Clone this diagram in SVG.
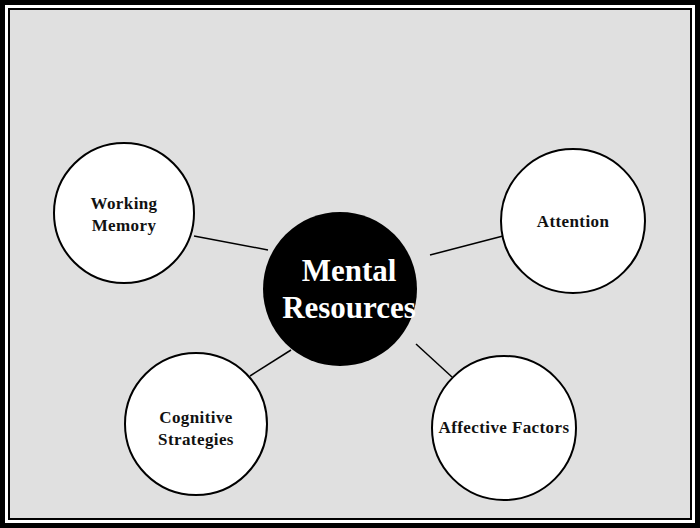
<svg xmlns="http://www.w3.org/2000/svg" width="700" height="528" viewBox="0 0 700 528">
<style>
.n{fill:#fff;stroke:#000;stroke-width:2}
.t{font-family:"Liberation Serif",serif;font-weight:bold;font-size:17px;letter-spacing:0.4px;text-anchor:middle;fill:#111}
.c{font-family:"Liberation Serif",serif;font-weight:bold;font-size:31px;text-anchor:middle;fill:#fff}
.l{stroke:#000;stroke-width:1.5}
</style>
<rect x="0" y="0" width="700" height="528" fill="#fff"/>
<rect x="2.5" y="2.5" width="695" height="523" fill="none" stroke="#000" stroke-width="5"/>
<rect x="9" y="9" width="682" height="510" fill="#e0e0e0" stroke="#000" stroke-width="2"/>
<g id="connectors">
<line class="l" x1="194" y1="236" x2="268" y2="250"/>
<line class="l" x1="430" y1="255" x2="503" y2="236"/>
<line class="l" x1="250" y1="376" x2="291" y2="350"/>
<line class="l" x1="416" y1="344" x2="452" y2="377"/>
</g>
<g id="wm"><circle class="n" cx="124" cy="213" r="70"/><text class="t" x="124" y="209">Working</text><text class="t" x="124" y="231">Memory</text></g>
<g id="att"><circle class="n" cx="573" cy="221" r="72"/><text class="t" x="573" y="227">Attention</text></g>
<g id="cog"><circle class="n" cx="196" cy="424" r="71"/><text class="t" x="196" y="423">Cognitive</text><text class="t" x="196" y="445">Strategies</text></g>
<g id="aff"><circle class="n" cx="504" cy="428" r="72"/><text class="t" x="504" y="433">Affective Factors</text></g>
<g id="center"><circle cx="340" cy="289" r="77" fill="#000"/><text class="c" x="349" y="281">Mental</text><text class="c" x="349" y="318">Resources</text></g>
</svg>
